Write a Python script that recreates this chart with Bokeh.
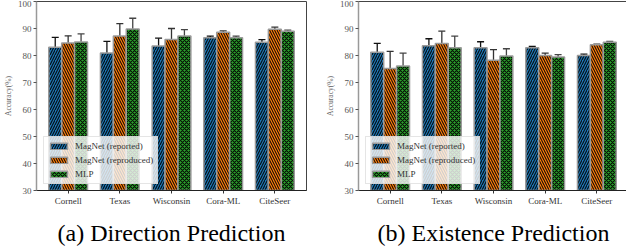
from bokeh.plotting import figure
from bokeh.models import (ColumnDataSource, Range1d, FixedTicker, Whisker, TeeHead,
                          Legend, LegendItem)
from bokeh.layouts import row
from bokeh.embed import file_html
from bokeh.resources import INLINE

categories = ["Cornell", "Texas", "Wisconsin", "Cora-ML", "CiteSeer"]
series_names = ["MagNet (reported)", "MagNet (reproduced)", "MLP"]

# (a) Direction Prediction
dir_reported = [83.1, 80.9, 83.5, 86.6, 84.9]
dir_reported_err = [3.6, 4.3, 2.9, 0.6, 1.0]
dir_reproduced = [84.6, 87.2, 85.9, 88.6, 89.7]
dir_reproduced_err = [2.7, 4.6, 4.1, 0.5, 0.8]
dir_mlp = [85.0, 89.8, 87.2, 86.6, 89.0]
dir_mlp_err = [3.0, 4.0, 2.4, 0.6, 0.4]

# (b) Existence Prediction
ex_reported = [81.2, 83.6, 82.9, 82.9, 80.0]
ex_reported_err = [3.3, 2.6, 2.2, 0.5, 0.5]
ex_reproduced = [75.2, 84.4, 78.2, 80.0, 84.0]
ex_reproduced_err = [6.3, 4.6, 4.0, 0.9, 0.2]
ex_mlp = [76.1, 82.9, 79.8, 79.4, 84.9]
ex_mlp_err = [4.8, 4.3, 2.7, 0.9, 0.3]

y_ticks = [30, 40, 50, 60, 70, 80, 90, 100]

colors = ["#1f77b4", "#ff7f0e", "#2ca02c"]
hatches = ["/", "\\", "x"]
offsets = [-0.25, 0.0, 0.25]
err_colors = ["#111111", "#333333", "#444444"]

SERIF = "Liberation Serif"


def make_panel(caption, vals, errs, left_border, right_border):
    p = figure(frame_width=270, frame_height=189, output_backend="svg",
               toolbar_location=None, x_range=Range1d(-0.6125, 4.6125),
               y_range=Range1d(30, 100), min_border_left=left_border,
               min_border_right=right_border, min_border_top=1, min_border_bottom=0)
    p.background_fill_color = "white"
    p.border_fill_color = "white"
    p.outline_line_color = "#444444"
    p.outline_line_width = 1
    p.xgrid.visible = False
    p.ygrid.visible = False

    items = []
    for i in range(3):
        xs = [k + offsets[i] for k in range(len(categories))]
        src = ColumnDataSource(dict(
            x=xs, top=vals[i],
            upper=[v + e for v, e in zip(vals[i], errs[i])],
            lower=[v - e for v, e in zip(vals[i], errs[i])]))
        r = p.vbar(x="x", top="top", bottom=30, width=0.25, source=src,
                   fill_color=colors[i], line_color="#9a9a9a", line_width=1.5,
                   hatch_pattern=hatches[i], hatch_color="black",
                   hatch_scale=5 if i < 2 else 4, hatch_weight=1.1,
                   hatch_alpha=0.9)
        w = Whisker(base="x", upper="upper", lower="lower", source=src,
                    line_color=err_colors[i], line_width=1.3,
                    upper_head=TeeHead(size=7, line_color=err_colors[i], line_width=1.3),
                    lower_head=TeeHead(size=7, line_color=err_colors[i], line_width=1.3))
        p.add_layout(w)
        items.append(LegendItem(label=series_names[i], renderers=[r]))

    xa = p.xaxis[0]
    xa.ticker = FixedTicker(ticks=list(range(len(categories))))
    xa.major_label_overrides = {k: c for k, c in enumerate(categories)}
    xa.minor_tick_line_color = None
    xa.major_tick_out = 3
    xa.major_tick_in = 0
    xa.major_label_standoff = 2
    xa.major_label_text_font = SERIF
    xa.major_label_text_font_size = "9px"
    xa.major_label_text_color = "#333333"
    xa.axis_line_color = "#222222"
    xa.major_tick_line_color = "#333333"
    xa.axis_label = caption
    xa.axis_label_text_font = SERIF
    xa.axis_label_text_font_size = "24px"
    xa.axis_label_text_font_style = "normal"
    xa.axis_label_text_color = "black"
    xa.axis_label_standoff = 11

    ya = p.yaxis[0]
    ya.ticker = FixedTicker(ticks=y_ticks)
    ya.minor_tick_line_color = None
    ya.major_tick_out = 3
    ya.major_tick_in = 0
    ya.major_label_standoff = 2
    ya.major_label_text_font = SERIF
    ya.major_label_text_font_size = "9px"
    ya.major_label_text_color = "#555555"
    ya.axis_line_color = "#999999"
    ya.axis_line_width = 1.5
    ya.major_tick_line_color = "#555555"
    ya.axis_label = "Accuracy(%)"
    ya.axis_label_text_font = SERIF
    ya.axis_label_text_font_size = "7.5px"
    ya.axis_label_text_font_style = "normal"
    ya.axis_label_text_color = "#666666"
    ya.axis_label_standoff = 2

    leg = Legend(items=items, location=(7, 6))
    leg.label_text_font = SERIF
    leg.label_text_font_size = "9px"
    leg.label_text_color = "#333333"
    leg.glyph_width = 21
    leg.glyph_height = 8
    leg.label_height = 10
    leg.label_standoff = 6
    leg.spacing = 4
    leg.padding = 4
    leg.margin = 0
    leg.background_fill_color = "white"
    leg.background_fill_alpha = 0.8
    leg.border_line_color = "#cccccc"
    leg.border_line_width = 1
    p.add_layout(leg, "center")
    return p


p1 = make_panel("(a) Direction Prediction",
                [dir_reported, dir_reproduced, dir_mlp],
                [dir_reported_err, dir_reproduced_err, dir_mlp_err], 0, 16)
p2 = make_panel("(b) Existence Prediction",
                [ex_reported, ex_reproduced, ex_mlp],
                [ex_reported_err, ex_reproduced_err, ex_mlp_err], 0, 2)

layout = row(p1, p2, spacing=0)
open("out.html", "w").write(file_html(layout, INLINE))
